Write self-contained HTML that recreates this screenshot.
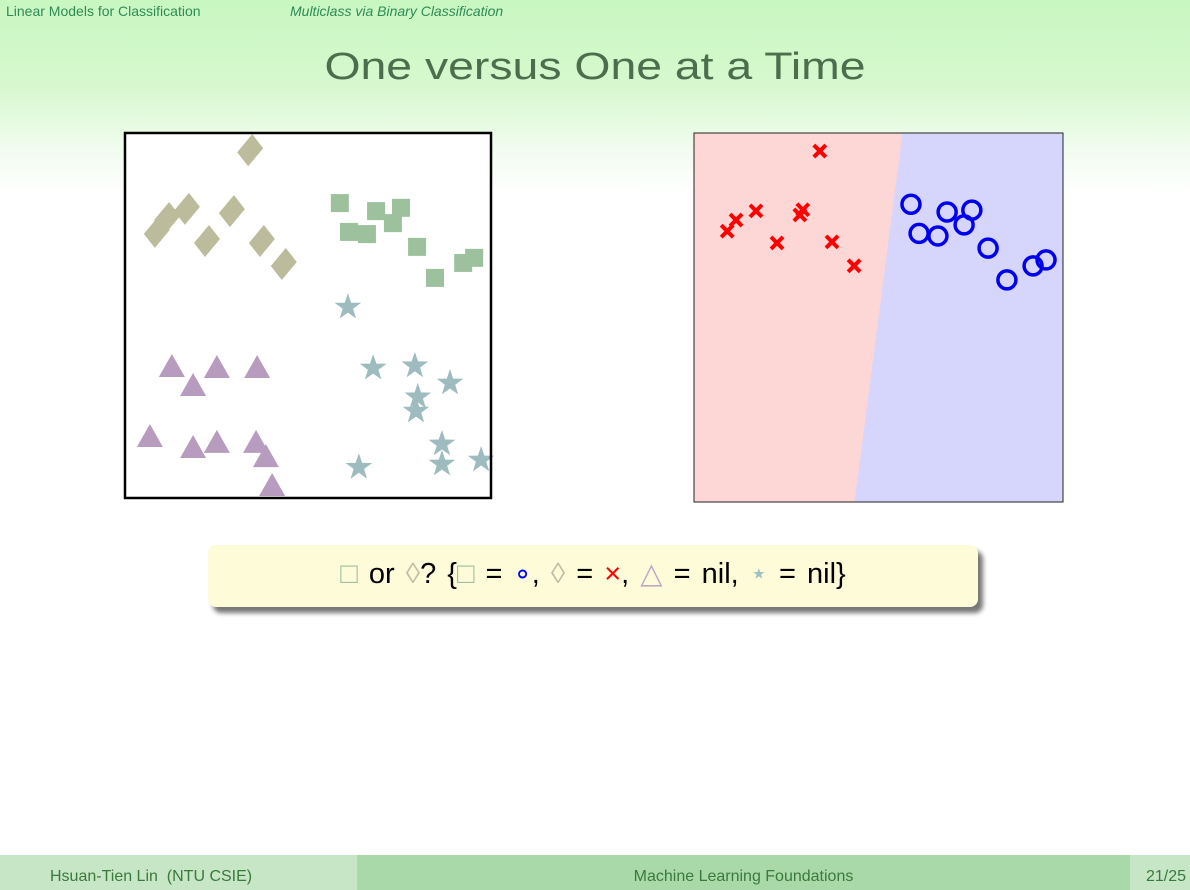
<!DOCTYPE html>
<html><head><meta charset="utf-8">
<style>
html,body{margin:0;padding:0;}
body{width:1190px;height:890px;position:relative;overflow:hidden;background:#fff;font-family:"Liberation Sans",sans-serif;}
#hdr{position:absolute;left:0;top:0;width:1190px;height:200px;background:linear-gradient(#c8f7c0 0px,#d8f8d0 90px,#f2fcf0 150px,#ffffff 195px);}
.t{position:absolute;white-space:nowrap;}
</style></head><body>
<div id="hdr"></div>
<div class="t" style="left:6px;top:3px;font-size:14px;color:#2e8b57;">Linear Models for Classification</div>
<div class="t" style="left:290px;top:3px;font-size:14px;color:#2e8b57;font-style:italic;">Multiclass via Binary Classification</div>
<div class="t" style="left:0;width:1190px;text-align:center;top:46px;font-size:38px;color:#4d6e4d;transform:scaleX(1.22);transform-origin:595px 0;">One versus One at a Time</div>

<svg id="charts" width="1190" height="890" style="position:absolute;left:0;top:0;">
<g id="left"></g>
<g id="right"></g>
</svg>

<div style="position:absolute;left:208px;top:545px;width:770px;height:62px;background:#fdfbd8;border-radius:8px;box-shadow:5px 6px 5px #777;"></div>
<div class="t" style="left:208px;width:770px;text-align:center;top:556px;font-size:29px;color:#000;word-spacing:3px;">
<span style="color:#a0c0a0">□</span> or <span style="color:#c0c0a8">◊</span>? {<span style="color:#a0c0a0">□</span> = <span style="color:#0000ff">∘</span>, <span style="color:#c0c0a8">◊</span> = <span style="color:#ff0000">×</span>, <span style="color:#c0a8c8">△</span> = nil, <span style="color:#a0c0c4">⋆</span> = nil}</div>

<div style="position:absolute;left:0;top:855px;width:357px;height:35px;background:#c6e6c6;"></div>
<div style="position:absolute;left:357px;top:855px;width:773px;height:35px;background:#a9d9a9;"></div>
<div style="position:absolute;left:1130px;top:855px;width:60px;height:35px;background:#c6e6c6;"></div>
<div class="t" style="left:50px;top:868px;font-size:16px;color:#3a7a3a;">Hsuan-Tien Lin&nbsp; (NTU CSIE)</div>
<div class="t" style="left:357px;width:773px;text-align:center;top:868px;font-size:16px;color:#3a7a3a;">Machine Learning Foundations</div>
<div class="t" style="left:1146px;top:868px;font-size:16px;color:#3a7a3a;">21/25</div>

<script>
// data coordinates in unit space [0,1] (x right, y down)
const diamondX=[0.342,0.087,0.115,0.169,0.292,0.224,0.374,0.434];
const diamondY=[0.047,0.271,0.233,0.208,0.214,0.296,0.296,0.359];
const squareX=[0.587,0.686,0.754,0.732,0.612,0.661,0.798,0.847,0.924,0.954];
const squareY=[0.192,0.214,0.205,0.247,0.271,0.277,0.312,0.397,0.356,0.342];
const starX=[0.609,0.678,0.792,0.888,0.800,0.795,0.866,0.866,0.973,0.639];
const starY=[0.477,0.644,0.638,0.685,0.723,0.762,0.852,0.907,0.896,0.916];
const triX=[0.128,0.251,0.361,0.186,0.068,0.186,0.251,0.358,0.385,0.402];
const triY=[0.641,0.644,0.644,0.693,0.833,0.863,0.849,0.849,0.888,0.967];
const crossX=[0.341,0.090,0.114,0.168,0.287,0.295,0.225,0.374,0.434];
const crossY=[0.049,0.266,0.236,0.211,0.222,0.208,0.298,0.295,0.360];
const circX=[0.588,0.686,0.753,0.732,0.610,0.661,0.797,0.848,0.919,0.954];
const circY=[0.193,0.214,0.209,0.249,0.272,0.279,0.312,0.398,0.360,0.344];
const boundaryTop=0.565, boundaryBottom=0.435;

const NS='http://www.w3.org/2000/svg';
function mk(tag,attrs,parent){const e=document.createElementNS(NS,tag);for(const k in attrs)e.setAttribute(k,attrs[k]);parent.appendChild(e);return e;}
const L={x0:125,y0:133,w:366,h:365};
const R={x0:694,y0:133,w:369,h:369};
const lx=v=>L.x0+v*L.w, ly=v=>L.y0+v*L.h;
const rx=v=>R.x0+v*R.w, ry=v=>R.y0+v*R.h;
const gl=document.getElementById('left'), gr=document.getElementById('right');

let e=mk('rect',{x:L.x0,y:L.y0,width:L.w,height:L.h,fill:'#fff',stroke:'none'},gl);


diamondX.forEach((v,i)=>{const x=lx(v),y=ly(diamondY[i]);
 const pts=[[x+2,y-16],[x+13,y-2],[x-2,y+16],[x-13,y+2]].map(p=>p[0].toFixed(1)+','+p[1].toFixed(1)).join(' ');
 const d=mk('polygon',{points:pts,fill:'#bcbc9c'},gl);
 
 });
squareX.forEach((v,i)=>{const x=lx(v),y=ly(squareY[i]);
 const d=mk('rect',{x:x-9,y:y-9,width:18,height:18,fill:'#9dc09d'},gl);
 
 });
triX.forEach((v,i)=>{const x=lx(v),y=ly(triY[i]);
 const d=mk('polygon',{points:`${x},${y-13} ${x+13},${y+10} ${x-13},${y+10}`,fill:'#b89cc0'},gl);
 
 });
starX.forEach((v,i)=>{const x=lx(v),y=ly(starY[i]);let p=[];
 for(let k=0;k<10;k++){const r=k%2?5.5:14,a=-Math.PI/2+k*Math.PI/5;p.push((x+r*Math.cos(a)).toFixed(1)+','+(y+r*Math.sin(a)).toFixed(1));}
 const d=mk('polygon',{points:p.join(' '),fill:'#9ebcc0'},gl);
 
 });
e=mk('rect',{x:L.x0,y:L.y0,width:L.w,height:L.h,fill:'none',stroke:'#000','stroke-width':2.5},gl);



e=mk('rect',{x:R.x0,y:R.y0,width:R.w,height:R.h,fill:'#d6d6fc'},gr);


e=mk('polygon',{points:`${R.x0},${R.y0} ${rx(boundaryTop)},${R.y0} ${rx(boundaryBottom)},${R.y0+R.h} ${R.x0},${R.y0+R.h}`,fill:'#fdd6d6'},gr);


crossX.forEach((v,i)=>{const x=rx(v),y=ry(crossY[i]);
 const d=mk('path',{d:`M${x-6},${y-6}L${x+6},${y+6}M${x+6},${y-6}L${x-6},${y+6}`,stroke:'#ff0000','stroke-width':4},gr);
 
 });
circX.forEach((v,i)=>{const x=rx(v),y=ry(circY[i]);
 const d=mk('circle',{cx:x,cy:y,r:9,fill:'none',stroke:'#0000ee','stroke-width':3.5},gr);
 
 });
e=mk('rect',{x:R.x0,y:R.y0,width:R.w,height:R.h,fill:'none',stroke:'#222','stroke-width':1},gr);


</script>
</body></html>
